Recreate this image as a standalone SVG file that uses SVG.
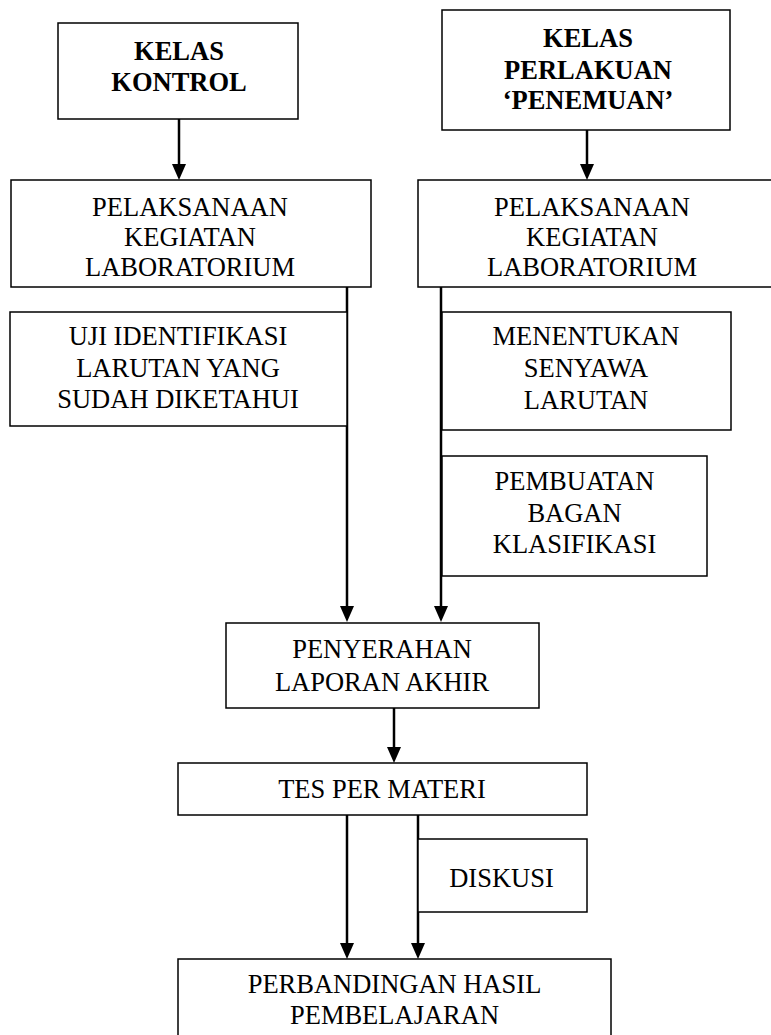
<svg xmlns="http://www.w3.org/2000/svg" width="771" height="1035" viewBox="0 0 771 1035">
<style>
.box{fill:#fff;stroke:#000;stroke-width:1.5}
.t{font-family:"Liberation Serif","Times New Roman",serif;font-size:26.5px;fill:#000;text-anchor:middle}
.b{font-weight:bold}
.ln{fill:none;stroke:#000;stroke-width:2.5}
</style>
<defs>
<marker id="ah" markerUnits="userSpaceOnUse" markerWidth="16" markerHeight="14" viewBox="0 0 16 14" refX="8" refY="7" orient="auto">
<path d="M0,0 L16,7 L0,14 Z" fill="#000"/>
</marker>
</defs>
<rect width="771" height="1035" fill="#fff"/>
<g id="connectors">
<line class="ln" x1="179" y1="119" x2="179" y2="172" marker-end="url(#ah)"/>
<line class="ln" x1="587" y1="130" x2="587" y2="172" marker-end="url(#ah)"/>
<line class="ln" x1="347" y1="287" x2="347" y2="614" marker-end="url(#ah)"/>
<line class="ln" x1="441" y1="287" x2="441" y2="614" marker-end="url(#ah)"/>
<line class="ln" x1="394" y1="708" x2="394" y2="755" marker-end="url(#ah)"/>
<line class="ln" x1="347" y1="815" x2="347" y2="951" marker-end="url(#ah)"/>
<line class="ln" x1="418" y1="815" x2="418" y2="951" marker-end="url(#ah)"/>
</g>
<g id="kelas-kontrol">
<rect class="box" x="58" y="23" width="240" height="96"/>
<text class="t b" x="179" y="60">KELAS</text>
<text class="t b" x="179" y="91">KONTROL</text>
</g>
<g id="kelas-perlakuan">
<rect class="box" x="442" y="10" width="288" height="120"/>
<text class="t b" x="588" y="47">KELAS</text>
<text class="t b" x="588" y="79">PERLAKUAN</text>
<text class="t b" x="588" y="109">‘PENEMUAN’</text>
</g>
<g id="pelaksanaan-kiri">
<rect class="box" x="11" y="180" width="360" height="107"/>
<text class="t" x="190" y="216">PELAKSANAAN</text>
<text class="t" x="190" y="246">KEGIATAN</text>
<text class="t" x="190" y="276">LABORATORIUM</text>
</g>
<g id="pelaksanaan-kanan">
<rect class="box" x="418" y="180" width="356" height="107"/>
<text class="t" x="592" y="216">PELAKSANAAN</text>
<text class="t" x="592" y="246">KEGIATAN</text>
<text class="t" x="592" y="276">LABORATORIUM</text>
</g>
<g id="uji-identifikasi">
<rect class="box" x="10" y="312" width="337" height="114"/>
<text class="t" x="178" y="345">UJI IDENTIFIKASI</text>
<text class="t" x="178" y="377">LARUTAN YANG</text>
<text class="t" x="178" y="408">SUDAH DIKETAHUI</text>
</g>
<g id="menentukan">
<rect class="box" x="442" y="312" width="289" height="118"/>
<text class="t" x="586" y="345">MENENTUKAN</text>
<text class="t" x="586" y="377">SENYAWA</text>
<text class="t" x="586" y="409">LARUTAN</text>
</g>
<g id="pembuatan">
<rect class="box" x="442" y="456" width="265" height="120"/>
<text class="t" x="574.5" y="490">PEMBUATAN</text>
<text class="t" x="574.5" y="522">BAGAN</text>
<text class="t" x="574.5" y="553">KLASIFIKASI</text>
</g>
<g id="penyerahan">
<rect class="box" x="226" y="623" width="313" height="85"/>
<text class="t" x="382" y="658">PENYERAHAN</text>
<text class="t" x="382" y="691">LAPORAN AKHIR</text>
</g>
<g id="tes">
<rect class="box" x="178" y="763" width="409" height="52"/>
<text class="t" x="382" y="798">TES PER MATERI</text>
</g>
<g id="diskusi">
<rect class="box" x="418" y="839" width="169" height="73"/>
<text class="t" x="501.5" y="887">DISKUSI</text>
</g>
<g id="perbandingan">
<rect class="box" x="178" y="959" width="433" height="90"/>
<text class="t" x="394.5" y="993">PERBANDINGAN HASIL</text>
<text class="t" x="394.5" y="1024">PEMBELAJARAN</text>
</g>
</svg>
